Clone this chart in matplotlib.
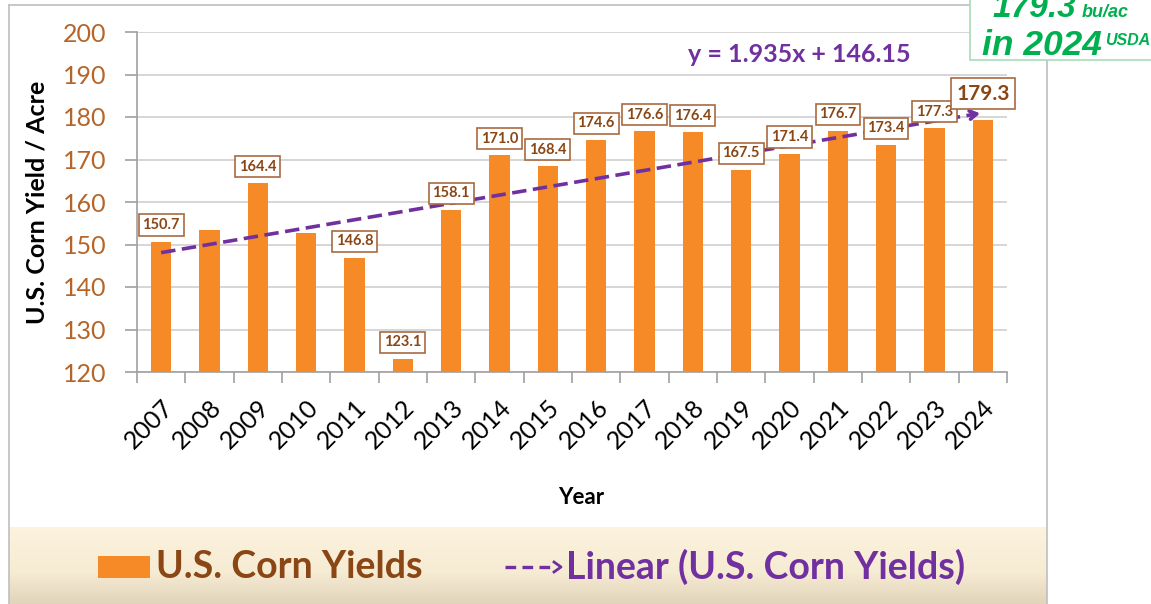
import matplotlib
matplotlib.use("Agg")
import matplotlib.pyplot as plt
from matplotlib.patches import Rectangle
import numpy as np

years = ["2007", "2008", "2009", "2010", "2011", "2012", "2013", "2014", "2015",
         "2016", "2017", "2018", "2019", "2020", "2021", "2022", "2023", "2024"]
yields = [150.7, 153.3, 164.4, 152.6, 146.8, 123.1, 158.1, 171.0, 168.4,
          174.6, 176.6, 176.4, 167.5, 171.4, 176.7, 173.4, 177.3, 179.3]
bar_labels = ["150.7", None, "164.4", None, "146.8", "123.1", "158.1", "171.0", "168.4",
              "174.6", "176.6", "176.4", "167.5", "171.4", "176.7", "173.4", "177.3", "179.3"]
trend_slope = 1.935
trend_intercept = 146.15
yticks = [120, 130, 140, 150, 160, 170, 180, 190, 200]

W, H = 1151, 604
FONT = "Lato"
ORANGE = "#F58A27"
PURPLE = "#7030A0"
BROWN = "#8A4614"
TICKBROWN = "#B5652A"

fig = plt.figure(figsize=(W / 100, H / 100), dpi=100)
fig.patch.set_facecolor("white")

def fx(px):
    return px / W

def fy(py):
    return 1 - py / H

# background band for legend (gradient)
bg = fig.add_axes([fx(9), 0, fx(1047) - fx(9), fy(527)], zorder=0)
grad = np.linspace(0, 1, 100)
top = np.array([0xFD, 0xF3, 0xDE]) / 255
mid = np.array([0xF6, 0xEB, 0xD3]) / 255
bot = np.array([0xE0, 0xD4, 0xBA]) / 255
img = np.zeros((100, 1, 3))
for i, g in enumerate(grad):
    if g < 0.6:
        t = g / 0.6
        img[i, 0] = top * (1 - t) + mid * t
    else:
        t = (g - 0.6) / 0.4
        img[i, 0] = mid * (1 - t) + bot * t
bg.imshow(img, aspect="auto", extent=[0, 1, 0, 1], origin="upper")
bg.set_axis_off()

# outer frame lines
fig.add_artist(plt.Line2D([fx(9), fx(9)], [0, fy(5)], color="#BFBFBF", lw=1.2))
fig.add_artist(plt.Line2D([fx(9), fx(1047)], [fy(5), fy(5)], color="#BFBFBF", lw=1.2))
fig.add_artist(plt.Line2D([fx(1047), fx(1047)], [0, fy(5)], color="#BFBFBF", lw=1.2))

ax = fig.add_axes([fx(137), fy(372), fx(1007) - fx(137), fy(32) - fy(372)], zorder=2)
ax.set_facecolor("none")
x = np.arange(len(years))
ax.bar(x, yields, width=0.42, color=ORANGE, zorder=2)
ax.set_xlim(-0.5, len(years) - 0.5)
ax.set_ylim(120, 200)
ax.set_yticks(yticks)
ax.set_yticklabels([str(v) for v in yticks], fontsize=18, color=TICKBROWN, family=FONT)
ax.yaxis.grid(True, color="#D0D0D0", lw=1.2, zorder=0)
ax.set_axisbelow(True)
ax.set_xticks(x)
ax.set_xticklabels(years, rotation=45, ha="right", va="top", rotation_mode="anchor",
                   fontsize=18, family=FONT, color="black")
ax.tick_params(axis="x", length=0, pad=17)
ax.set_xticks(np.arange(-0.5, len(years) + 0.5, 1), minor=True)
ax.tick_params(axis="x", which="minor", length=8, color="#A0A0A0", width=1.2)
ax.tick_params(axis="y", length=9, color="#A0A0A0", width=1.2, pad=13)
for s in ["top", "right"]:
    ax.spines[s].set_visible(False)
for s in ["left", "bottom"]:
    ax.spines[s].set_color("#A0A0A0")
    ax.spines[s].set_linewidth(1.2)

# trend line
trend = trend_intercept + trend_slope * (x + 1)
ax.plot(x[:-1].tolist() + [x[-1] - 0.15], list(trend[:-1]) + [trend[-1] - 0.15 * trend_slope],
        color=PURPLE, lw=2.6, dashes=(4, 1.8), zorder=4)
ax.annotate("", xy=(x[-1], trend[-1]), xytext=(x[-1] - 0.3, trend[-1] - 0.3 * trend_slope),
            arrowprops=dict(arrowstyle="->,head_length=0.5,head_width=0.3", color=PURPLE, lw=2.6),
            zorder=4)

# data labels
for xi, v, lab in zip(x, yields, bar_labels):
    if lab is None:
        continue
    big = lab == "179.3"
    ax.annotate(lab, xy=(xi, v), xytext=(0, 19 if big else 12), textcoords="offset points",
                ha="center", va="center", fontsize=15 if big else 10.5, fontweight="bold",
                family=FONT, color=BROWN, zorder=5,
                bbox=dict(boxstyle="square,pad=0.25", fc="white", ec="#A8693F", lw=1.2))

ax.set_ylabel("U.S. Corn Yield / Acre", fontsize=18, fontweight="bold", family=FONT,
              labelpad=10)
fig.text(fx(581), fy(498), "Year", ha="center", va="center", fontsize=16,
         fontweight="bold", family=FONT)

# equation
fig.text(fx(799), fy(55), "y = 1.935x + 146.15", ha="center", va="center", fontsize=18,
         fontweight="bold", family=FONT, color=PURPLE)

# legend
fig.add_artist(Rectangle((fx(98), fy(578)), fx(52), fy(556) - fy(578), fc=ORANGE, ec="none",
                         transform=fig.transFigure))
fig.text(fx(156), fy(567), "U.S. Corn Yields", ha="left", va="center", fontsize=27,
         fontweight="bold", family=FONT, color=BROWN)
fig.add_artist(plt.Line2D([fx(505), fx(553)], [fy(567), fy(567)], color=PURPLE, lw=2.4,
                          dashes=(3.2, 1.9)))
fig.add_artist(plt.Line2D([fx(554), fx(561), fx(554)], [fy(562), fy(567), fy(572)],
                          color=PURPLE, lw=2.0))
fig.text(fx(566), fy(567), "Linear (U.S. Corn Yields)", ha="left", va="center", fontsize=27,
         fontweight="bold", family=FONT, color=PURPLE)

# green callout box
fig.add_artist(Rectangle((fx(970), fy(60)), fx(200), fy(-20) - fy(60), fc="white",
                         ec="#A8DCB8", lw=1.2, transform=fig.transFigure, zorder=10))
GREEN = "#00B050"
fig.text(fx(992), fy(17), "179.3", ha="left", va="baseline", fontsize=24, fontweight="bold",
         style="italic", family="Liberation Sans", color=GREEN, zorder=11)
fig.text(fx(1082), fy(17), "bu/ac", ha="left", va="baseline", fontsize=13, fontweight="bold",
         style="italic", family="Liberation Sans", color=GREEN, zorder=11)
fig.text(fx(982), fy(55), "in 2024", ha="left", va="baseline", fontsize=25.5, fontweight="bold",
         style="italic", family="Liberation Sans", color=GREEN, zorder=11)
fig.text(fx(1105), fy(45), "USDA", ha="left", va="baseline", fontsize=11.5, fontweight="bold",
         style="italic", family="Liberation Sans", color=GREEN, zorder=11)

fig.savefig("out.png", dpi=100)
